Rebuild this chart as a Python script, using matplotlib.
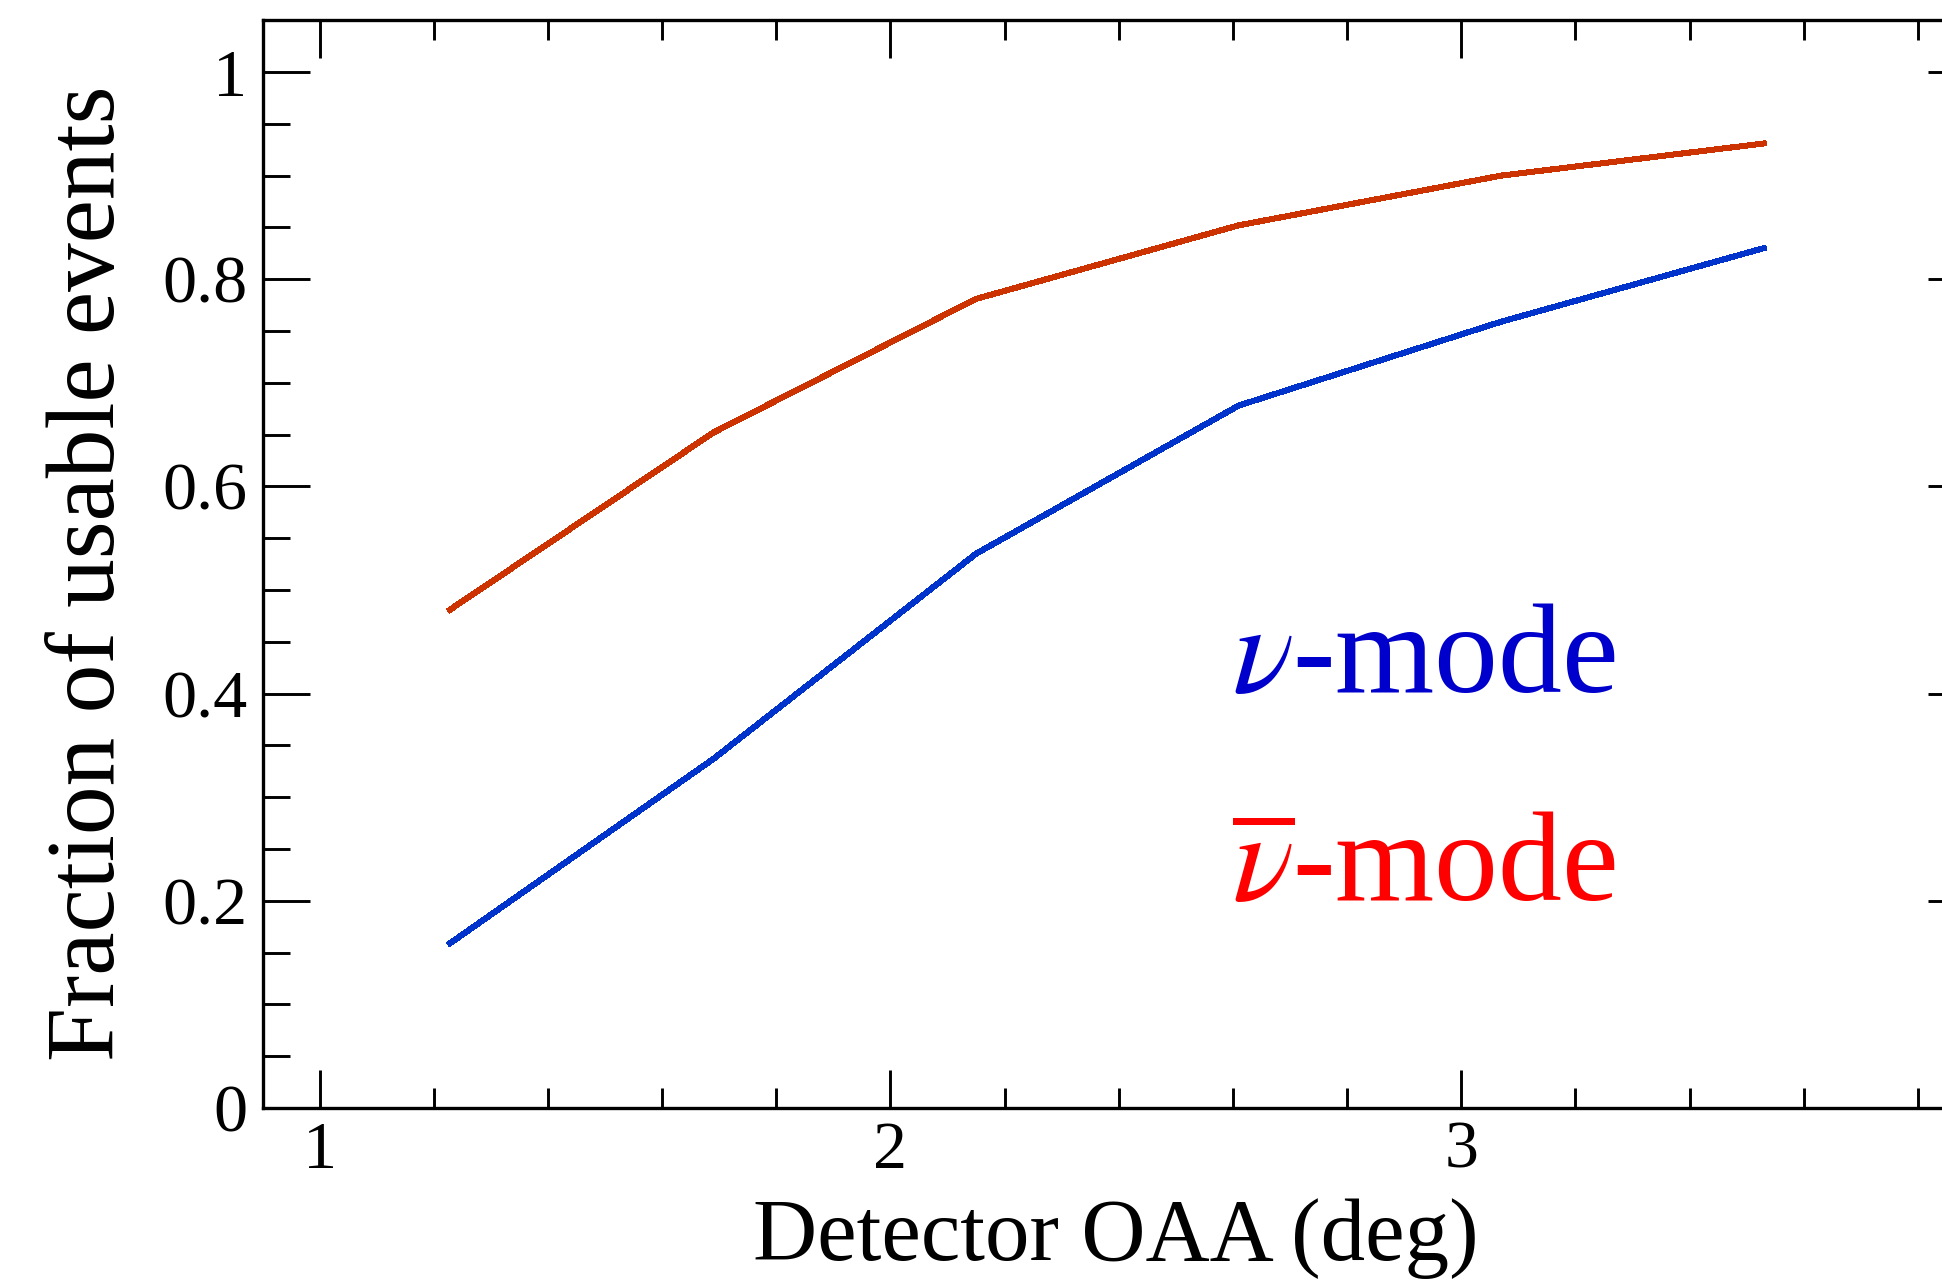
import matplotlib
matplotlib.use("Agg")
import matplotlib.pyplot as plt
from matplotlib.ticker import MultipleLocator, FixedLocator

# Off-axis angle of the detector (deg)
oaa = [1.2285, 1.69, 2.15, 2.61, 3.07, 3.53]
# Fraction of usable events
frac_nu = [0.159, 0.337, 0.535, 0.678, 0.759, 0.830]
frac_nubar = [0.481, 0.652, 0.781, 0.852, 0.900, 0.931]

x_major = [1, 2, 3]
y_major = [0, 0.2, 0.4, 0.6, 0.8, 1.0]
y_labels = ["0", "0.2", "0.4", "0.6", "0.8", "1"]

plt.rcParams["font.family"] = ["Liberation Serif", "DejaVu Serif"]
plt.rcParams["mathtext.fontset"] = "stix"

fig = plt.figure(figsize=(19.42, 12.8), dpi=100)
ax = fig.add_axes([0.13517, 0.134375, 0.88182, 0.84984])

ax.plot(oaa, frac_nubar, color="#CC3300", lw=3.6, antialiased=False, solid_joinstyle="miter")
ax.plot(oaa, frac_nu, color="#0033CC", lw=3.6, antialiased=False, solid_joinstyle="miter")

ax.set_xlim(0.9, 3.9)
ax.set_ylim(0, 1.05)

ax.xaxis.set_major_locator(FixedLocator(x_major))
ax.xaxis.set_minor_locator(MultipleLocator(0.2))
ax.set_xticklabels([str(v) for v in x_major])
ax.yaxis.set_major_locator(FixedLocator(y_major))
ax.yaxis.set_minor_locator(MultipleLocator(0.05))
ax.set_yticklabels(y_labels)

for s in ax.spines.values():
    s.set_linewidth(2.4)

ax.tick_params(axis="x", which="major", direction="in", length=27.5, width=2.1,
               top=True, bottom=True, labelsize=49, pad=9)
ax.tick_params(axis="x", which="minor", direction="in", length=14.5, width=2.1,
               top=True, bottom=True)
ax.tick_params(axis="y", which="major", direction="in", length=34, width=2.1,
               left=True, right=True, labelsize=49, pad=11)
ax.tick_params(axis="y", which="minor", direction="in", length=19.5, width=2.1,
               left=True, right=True)

ax.set_xlabel("Detector OAA (deg)", fontsize=64)
ax.xaxis.set_label_coords(0.4984, -0.0825)
ax.set_ylabel("Fraction of usable events", fontsize=70)
ax.yaxis.set_label_coords(-0.0745, 0.4917)

ax.text(2.598, 0.4015, r"$\nu$-mode", color="#0000CC", fontsize=92,
        ha="left", va="baseline")
ax.text(2.598, 0.199, r"$\overline{\nu}$-mode", color="#FF0000", fontsize=92,
        ha="left", va="baseline")

fig.savefig("out.png", dpi=100)
